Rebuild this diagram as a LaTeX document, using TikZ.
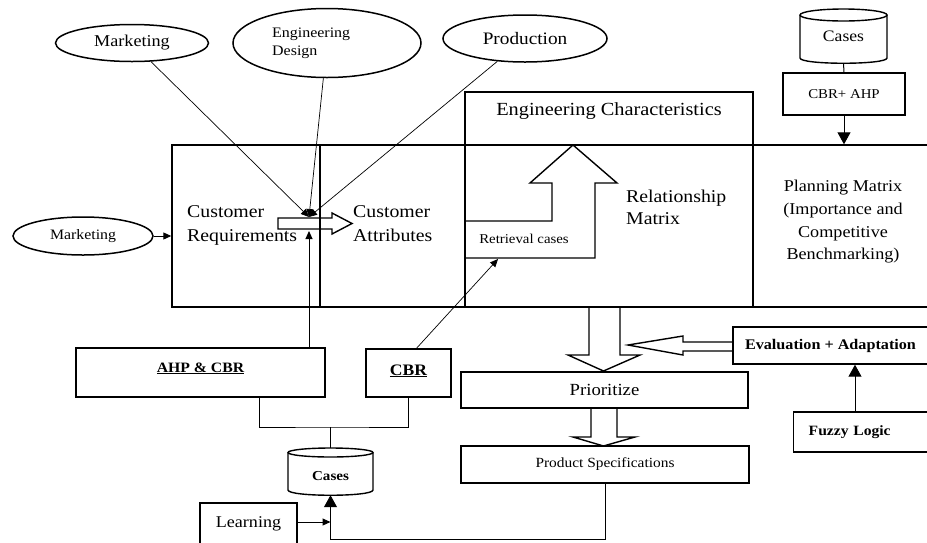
\documentclass[tikz,border=0pt]{standalone}
\usepackage{fontspec}
\setmainfont{Liberation Serif}[FakeStretch=1.1]
\usetikzlibrary{shapes.geometric,arrows.meta,calc}
\newcommand{\fsz}[2]{\fontsize{#1pt}{#2pt}\selectfont}
\begin{document}
\begin{tikzpicture}[x=1pt,y=-1pt,
  frame/.style={draw, line width=1.4pt, inner sep=0pt},
  ell/.style={draw, ellipse, line width=1.5pt, inner sep=0pt},
  conn/.style={line width=1pt},
  thinl/.style={line width=0.7pt},
  tipS/.style={-{Triangle[length=8pt,width=7pt]}},
  tipB/.style={-{Triangle[length=12pt,width=13pt]}},
  hol/.style={draw, line width=1.4pt, line join=miter},
  txt/.style={inner sep=0pt, align=left},
  cyl/.style={line width=1.4pt}
]
\useasboundingbox (0,0) rectangle (927,542);
\clip (0,0) rectangle (927,542);

% main matrix regions
\node[frame, minimum width=148pt, minimum height=162pt] (cr) at (246,226) {};
\node[frame, minimum width=145pt, minimum height=162pt] (ca) at (392.5,226) {};
\node[frame, minimum width=288pt, minimum height=162pt] (rm) at (609,226) {};
\node[frame, minimum width=180pt, minimum height=162pt] (pm) at (843,226) {};
\node[frame, minimum width=288pt, text height=23pt, text depth=30pt, font=\fsz{18.5}{22}] (ec) at (609,118.5) {Engineering Characteristics};

\node[txt, anchor=north west, font=\fsz{18}{24}] (crt) at (187,205.7) {Customer\\Requirements};
\node[txt, anchor=north west, font=\fsz{18}{24}] (cat) at (353,205.7) {Customer\\Attributes};
\node[txt, anchor=north west, font=\fsz{18}{22}] (rmt) at (626,189.7) {Relationship\\Matrix};
\node[inner sep=0pt, align=center, anchor=north, font=\fsz{16.5}{22.7}] (pmt) at (843,180) {Planning Matrix\\(Importance and\\Competitive\\Benchmarking)};

% top ellipses
\node[ell, minimum width=153pt, minimum height=37pt, font=\fsz{16.5}{20}] (mk1) at (132,43) {Marketing};
\node[ell, minimum width=188pt, minimum height=69pt] (ed) at (327,43) {};
\node[txt, anchor=north west, font=\fsz{14.5}{18}] (edt) at (272,28) {Engineering\\Design};
\node[ell, minimum width=164pt, minimum height=47pt, font=\fsz{17.5}{20}] (pr) at (525,38.5) {Production};
\node[ell, minimum width=140pt, minimum height=38pt, font=\fsz{14.4}{18}] (mk2) at (83,236) {Marketing};

\coordinate (J) at (309,217);
\draw[thinl, tipS] (mk1) -- (J);
\draw[thinl, tipS] (ed) -- (J);
\draw[thinl, tipS] (pr) -- (J);
\draw[conn, tipS] (mk2) -- (cr.west |- mk2);

% hollow arrow requirements -> attributes
\draw[hol] (278,218) -- (332,218) -- (332,213) -- (352,223.5) -- (332,234) -- (332,229) -- (278,229) -- cycle;

% retrieval L-arrow
\draw[hol] (465,221) -- (552,221) -- (552,183) -- (530,183) -- (573,145) -- (617,183) -- (595,183) -- (595,258) -- (465,258);
\node[inner sep=0pt, font=\fsz{13.5}{16}] (ret) at (524,239) {Retrieval cases};

% lower-left boxes
\node[frame, minimum width=249pt, text height=24pt, text depth=25pt, font=\bfseries\fsz{14.3}{17}] (ahp) at (200.5,372.5) {\underline{AHP \& CBR}};
\node[frame, minimum width=85pt, text height=26pt, text depth=22pt, font=\bfseries\fsz{16}{19}] (cbr) at (408.5,373) {\underline{CBR}};

\coordinate (J2) at (309,231);
\draw[conn, tipS] (J2 |- ahp.north) -- (J2);
\coordinate (R) at (498,259);
\draw[thinl, tipS] ([xshift=8pt]cbr.north) -- (R);

% bottom cases cylinder
\draw[cyl] (330.5,452.5) ellipse [x radius=42.5pt, y radius=4.5pt];
\draw[cyl] (288,452.5) -- (288,490) .. controls (288,497) and (373,497) .. (373,490) -- (373,452.5);
\node[inner sep=0pt, minimum width=85pt, text height=32pt, text depth=15pt, font=\bfseries\fsz{13.7}{16}] (casesB) at (330.5,471.5) {Cases};

\coordinate (hub) at (330.5,427);
\draw[conn] ([xshift=58.5pt]ahp.south) |- (hub) -| (cbr.south);
\draw[conn] (hub) -- (casesB.north);

% learning
\node[frame, minimum width=97pt, text height=24pt, text depth=20pt, font=\fsz{16.4}{19}] (learn) at (248.5,525) {Learning};

% right lower boxes
\node[frame, minimum width=287pt, minimum height=36pt, font=\fsz{17}{20}] (prio) at (604.5,390) {Prioritize};
\node[frame, minimum width=288pt, minimum height=37pt, font=\fsz{14}{17}] (ps) at (605,464.5) {Product Specifications};
\node[frame, minimum width=195pt, minimum height=37pt, font=\bfseries\fsz{14.7}{17}] (ev) at (830.5,345.5) {Evaluation + Adaptation};
\node[frame, anchor=west, inner xsep=15pt, text width=120pt, align=left, minimum height=40pt, font=\bfseries\fsz{14.2}{17}] (fz) at (793,432) {Fuzzy Logic};

\coordinate (lb) at (330.5,539);
\coordinate (L1) at (330.5,522);
\draw[conn, tipB] (ps.south) |- (lb) -- (casesB.south);
\draw[conn, tipS] (learn.east |- L1) -- (L1);

\coordinate (ax) at (855,0);
\draw[conn, tipB] (fz.north -| ax) -- (ev.south -| ax);

% hollow arrows lower right
\draw[hol] (589,307) -- (589,355) -- (568,355) -- (603.5,371) -- (640,355) -- (620,355) -- (620,307);
\draw[hol] (733,342) -- (683,342) -- (683,336) -- (628,345) -- (683,355) -- (683,351) -- (733,351);
\draw[hol] (591,408) -- (591,437) -- (573,437) -- (603.5,446) -- (635,437) -- (617,437) -- (617,408);

% top right cases + CBR+AHP
\draw[cyl] (843.5,15) ellipse [x radius=43.5pt, y radius=6pt];
\draw[cyl] (800,15) -- (800,58) .. controls (800,65) and (887,65) .. (887,58) -- (887,15);
\node[inner sep=0pt, minimum width=87pt, minimum height=54pt, font=\fsz{16}{19}] (casesT) at (843.5,36) {Cases};
\node[frame, minimum width=122pt, minimum height=42pt, font=\fsz{13.5}{16}] (cbrahp) at (844,94) {CBR+ AHP};
\draw[conn] (casesT.south) -- (cbrahp.north);
\draw[conn, tipB] (cbrahp.south) -- (cbrahp.south |- pm.north);

\end{tikzpicture}
\end{document}
